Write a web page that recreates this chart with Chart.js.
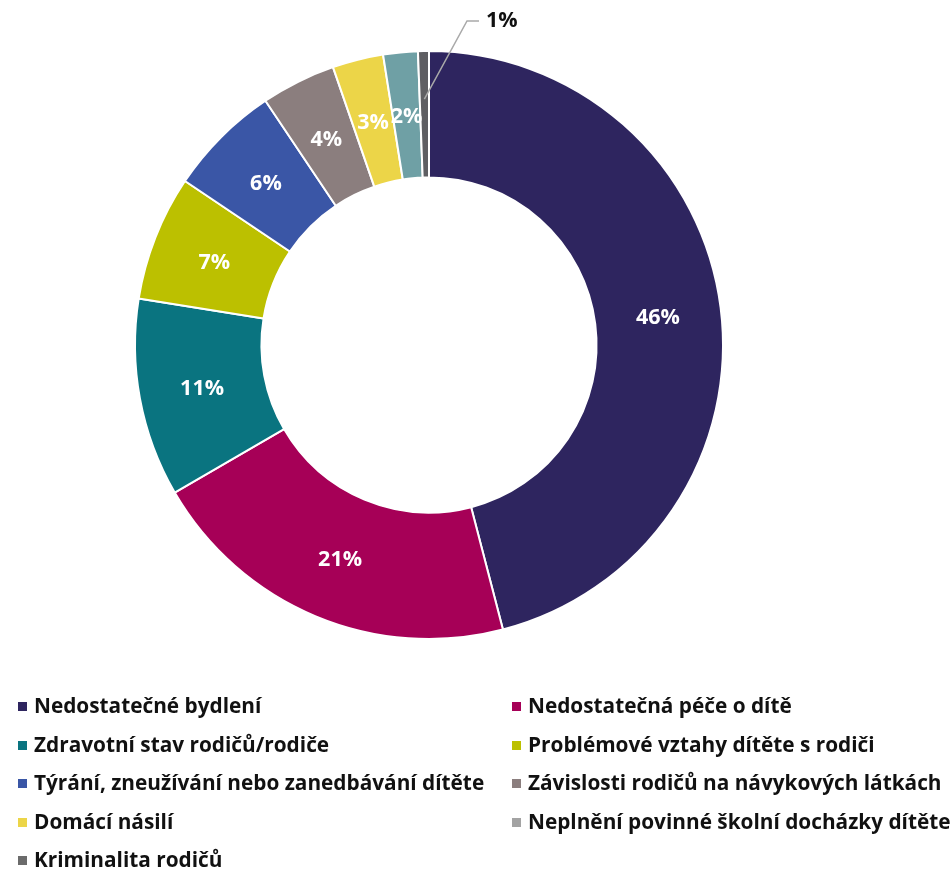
<!DOCTYPE html>
<html>
<head>
<meta charset="utf-8">
<script src="https://cdn.jsdelivr.net/npm/chart.js@4/dist/chart.umd.min.js"></script>
<style>
  body { margin: 0; background: #fff; }
  .wrap { position: relative; width: 951px; height: 870px; }
  .chart-js { position: absolute; left: 0; top: 0; }
  .legend { position: absolute; left: 0; top: 686px; width: 951px; font-family: "Open Sans", sans-serif; font-weight: bold; font-size: 20.8px; color: #111; }
  .legend .item { position: absolute; white-space: nowrap; height: 38px; line-height: 38px; }
  .legend .box { display: inline-block; width: 9px; height: 9px; margin-right: 7px; vertical-align: 2px; }
</style>
</head>
<body>
<div class="wrap">
  <canvas class="chart-js" width="951" height="870"></canvas>
  <div class="legend"></div>
</div>
<script>
const canvas = document.querySelector('.chart-js').getContext('2d');

const LABELS = [
  'Nedostatečné bydlení',
  'Nedostatečná péče o dítě',
  'Zdravotní stav rodičů/rodiče',
  'Problémové vztahy dítěte s rodiči',
  'Týrání, zneužívání nebo zanedbávání dítěte',
  'Závislosti rodičů na návykových látkách',
  'Domácí násilí',
  'Neplnění povinné školní docházky dítěte',
  'Kriminalita rodičů',
];
const SHARES = [46.0, 20.7, 10.9, 6.9, 6.2, 4.1, 2.8, 1.9, 0.6];
const COLORS = ['#2e255f', '#a60057', '#0a7480', '#bcc000', '#3a56a6', '#8b7e7e', '#ecd548', '#6fa0a5', '#5f5f63'];
const MARKERS = ['#2e255f', '#a60057', '#0a7480', '#bcc000', '#3a56a6', '#8b7e7e', '#ecd548', '#a3a3a3', '#6b6b6b'];

// percentage labels drawn on the slices, last one pulled out with a leader line
const sliceLabels = {
  id: 'sliceLabels',
  afterDatasetsDraw(chart) {
    const ctx = chart.ctx;
    const arcs = chart.getDatasetMeta(0).data;
    ctx.save();
    ctx.font = 'bold 21.5px "Open Sans", sans-serif';
    ctx.textAlign = 'center';
    ctx.textBaseline = 'middle';
    arcs.forEach((arc, i) => {
      const txt = Math.round(SHARES[i]) + '%';
      if (i === arcs.length - 1) {
        const mid = (arc.startAngle + arc.endAngle) / 2;
        const r = arc.outerRadius - 48;
        const x0 = arc.x + Math.cos(mid) * r;
        const y0 = arc.y + Math.sin(mid) * r;
        const x1 = arc.x + 38, y1 = 21;
        ctx.strokeStyle = '#a9a9a9';
        ctx.lineWidth = 1.5;
        ctx.beginPath();
        ctx.moveTo(x0, y0);
        ctx.lineTo(x1, y1);
        ctx.lineTo(x1 + 12, y1);
        ctx.stroke();
        ctx.fillStyle = '#111';
        ctx.textAlign = 'left';
        ctx.fillText(txt, x1 + 19, y1);
        return;
      }
      const p = arc.tooltipPosition();
      ctx.fillStyle = '#fff';
      ctx.fillText(txt, p.x, p.y + 2);
    });
    ctx.restore();
  },
};

new Chart(canvas, {
  type: 'doughnut',
  data: {
    labels: LABELS,
    datasets: [{
      data: SHARES,
      backgroundColor: COLORS,
      borderColor: '#fff',
      borderWidth: 2,
    }],
  },
  options: {
    responsive: false,
    animation: false,
    cutout: '57%',
    layout: { padding: { left: 134, top: 49, right: 227, bottom: 229 } },
    plugins: { legend: { display: false }, tooltip: { enabled: false } },
  },
  plugins: [sliceLabels],
});

// two-column legend below the ring
const legend = document.querySelector('.legend');
LABELS.forEach((label, i) => {
  const item = document.createElement('div');
  item.className = 'item';
  item.style.left = (i % 2 === 0 ? 18 : 512) + 'px';
  item.style.top = Math.floor(i / 2) * 38.5 + 'px';
  item.innerHTML = '<span class="box" style="background:' + MARKERS[i] + '"></span>' + label;
  legend.appendChild(item);
});
</script>
</body>
</html>
